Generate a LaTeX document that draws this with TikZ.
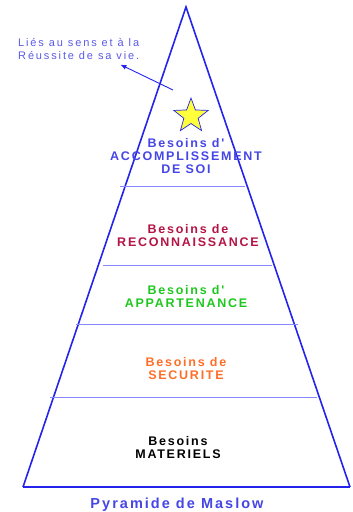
\documentclass[tikz,border=0pt]{standalone}
\usepackage{fontspec}
\setmainfont{Liberation Sans}
\newfontfamily\lvlfont{Liberation Sans}[LetterSpace=14]
\newfontfamily\notefont{Liberation Sans}[LetterSpace=17]
\usetikzlibrary{arrows.meta,shapes.geometric}
\definecolor{edgeblue}{RGB}{35,35,235}
\definecolor{lineblue}{RGB}{135,135,255}
\definecolor{soiblue}{RGB}{70,70,230}
\definecolor{recored}{RGB}{180,20,70}
\definecolor{appgreen}{RGB}{30,200,30}
\definecolor{secorange}{RGB}{255,110,40}
\definecolor{noteblue}{RGB}{90,90,230}
\definecolor{starfill}{RGB}{255,255,60}
\tikzset{level/.style={font=\lvlfont\bfseries\fontsize{12.5}{13}\selectfont, align=center, inner sep=0pt},
  divider/.style={draw=lineblue, line width=0.9pt}}

\begin{document}
\begin{tikzpicture}[x=1pt, y=-1pt, >=Latex]
\useasboundingbox (0,0) rectangle (353,512);
% pyramid outline
\coordinate (apex) at (186,7); \coordinate (bl) at (23,487); \coordinate (br) at (350,487);
\draw[edgeblue, line width=1.6pt, line join=miter] (bl) -- (apex) -- (br);
\draw[edgeblue, line width=1.2pt] (bl) -- (br);
% dividers
\draw[divider] (120,186) -- (245,186);\draw[divider] (103,265) -- (272,265);
\draw[divider] (76,324) -- (298,324);\draw[divider] (50,397) -- (317,397);
% levels
\node[star, star points=5, star point ratio=2.4, draw=edgeblue, fill=starfill, line width=0.7pt, minimum size=36pt, inner sep=0pt] (star) at (191,116) {};
\node[level, text=soiblue] (soi) at (186,156) {Besoins d'\\ACCOMPLISSEMENT\\DE SOI};
\node[level, text=recored] (reco) at (188,236) {Besoins de\\RECONNAISSANCE};
\node[level, text=appgreen] (appart) at (186,297) {Besoins d'\\APPARTENANCE};
\node[level, text=secorange] (secu) at (186,369) {Besoins de\\SECURITE};
\node[level, text=black] (mat) at (178,447.5) {Besoins\\MATERIELS};
\node[font=\lvlfont\bfseries\fontsize{14.5}{16}\selectfont, text=soiblue, anchor=base, inner sep=0pt] (title) at (177,508) {Pyramide de Maslow};
% note
\node[font=\notefont\fontsize{11}{13}\selectfont, text=noteblue, align=left, anchor=north west, inner sep=0pt] (note) at (18,38) {Liés au sens et à la\\Réussite de sa vie.};
\coordinate (notetail) at (173,90);
\draw[->, edgeblue, line width=0.9pt, >={Latex[length=6pt,width=5pt]}] (notetail) -- ([xshift=-19pt, yshift=-5pt]note.south east);
\end{tikzpicture}
\end{document}
